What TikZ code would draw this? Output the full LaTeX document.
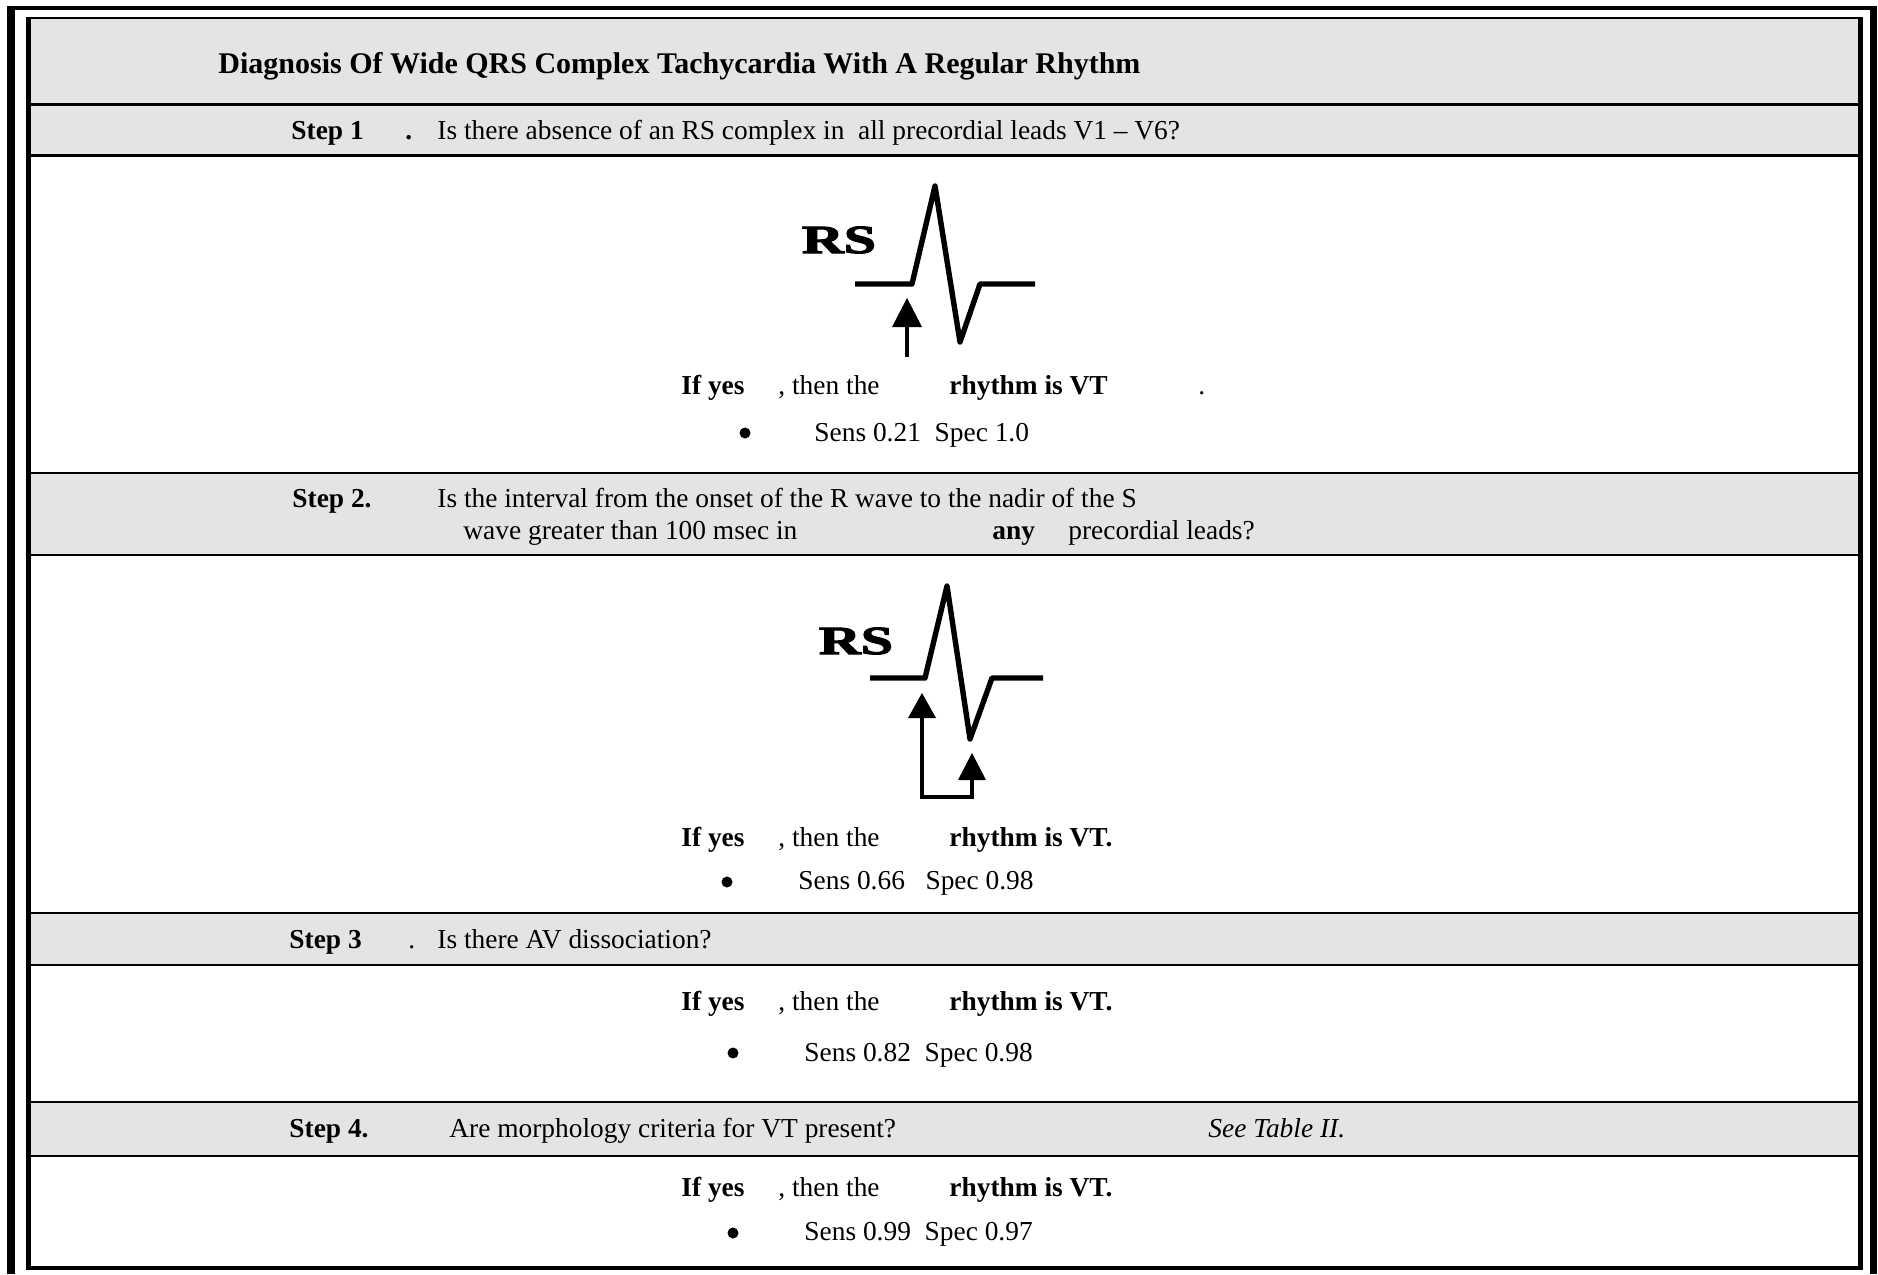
\documentclass[tikz,border=0pt]{standalone}
\usepackage{fontspec}
\usepackage{graphicx}
\setmainfont{Liberation Serif}
\newfontfamily\rsfam{Liberation Serif}[BoldFeatures={FakeBold=2.5}]
\definecolor{rowgray}{HTML}{E4E4E4}
\begin{document}
\begin{tikzpicture}[x=0.5pt,y=-0.5pt,
  body/.style={anchor=base west,inner sep=0pt,font=\fontsize{13.7}{16}\selectfont},
  bodyb/.style={anchor=base west,inner sep=0pt,font=\fontsize{13.7}{16}\selectfont\bfseries},
  bodyi/.style={anchor=base west,inner sep=0pt,font=\fontsize{13.7}{16}\selectfont\itshape},
  titlefont/.style={anchor=base west,inner sep=0pt,font=\fontsize{15}{18}\selectfont\bfseries},
  rsfont/.style={inner sep=0pt,font=\rsfam\fontsize{20}{22}\selectfont\bfseries},
  bulletdot/.style={circle,fill=black,inner sep=0pt,minimum size=5.5pt},
  sepline/.style={line width=1.25pt,black},
  wave/.style={line width=2.7pt,line join=round},
  shaft/.style={line width=2pt},
]
\useasboundingbox (0,0) rectangle (1878,1274);
% gray rows
\fill[rowgray] (28,18) rectangle (1860,104.5);
\fill[rowgray] (28,104.5) rectangle (1860,155.5);
\fill[rowgray] (28,473) rectangle (1860,555);
\fill[rowgray] (28,913) rectangle (1860,965);
\fill[rowgray] (28,1102) rectangle (1860,1156);
% separators
\foreach \yy in {104.5,155.5,473,555,913,965,1102,1156}
  \draw[sepline] (28,\yy) -- (1860,\yy);
% inner frame
\draw[line width=1pt] (26,18) -- (1863,18);
\draw[line width=2.25pt] (28.5,17) -- (28.5,1270);
\draw[line width=2.25pt] (1860.5,17) -- (1860.5,1270);
\draw[line width=2pt] (26,1268) -- (1863,1268);
% outer frame
\draw[line width=2pt] (7,8) -- (1877,8);
\draw[line width=4pt] (11,6) -- (11,1274);
\draw[line width=3.5pt] (1873.5,6) -- (1873.5,1274);

% title
\node[titlefont] (title) at (218,73) {Diagnosis Of Wide QRS Complex Tachycardia With A Regular Rhythm};

% step 1
\node[bodyb] (s1) at (291,139) {Step 1};
\node[bodyb] (s1dot) at (405,139) {.};
\node[body] (s1q) at (437,139) {Is there absence of an RS complex in\ \ all precordial leads V1 – V6?};

% ECG 1
\node[rsfont] (rs1) at (839,240) {\scalebox{1.45}[1]{RS}};
\draw[wave] (855,284) -- (912,284) -- (935,186) -- (960,342) -- (980,284) -- (1035,284);
\fill (907,298) -- (922,327) -- (892,327) -- cycle;
\draw[shaft] (907,320) -- (907,357);

\node[bodyb] (y1) at (681,394) {If yes};
\node[body] (t1) at (778,394) {, then the};
\node[bodyb] (r1) at (949,394) {rhythm is VT};
\node[body] (d1) at (1198,394) {.};
\node[bulletdot] (b1) at (745,433) {};
\node[body] (v1) at (814,441) {Sens 0.21\ \ Spec 1.0};

% step 2
\node[bodyb] (s2) at (292,507) {Step 2.};
\node[body] (s2a) at (437,507) {Is the interval from the onset of the R wave to the nadir of the S};
\node[body] (s2b) at (463,539) {wave greater than 100 msec in};
\node[bodyb] (s2c) at (992,539) {any};
\node[body] (s2d) at (1068,539) {precordial leads?};

% ECG 2
\node[rsfont] (rs2) at (856,641) {\scalebox{1.45}[1]{RS}};
\draw[wave] (870,678) -- (925,678) -- (947,586) -- (970,739) -- (992,678) -- (1043,678);
\fill (922,693) -- (936,718) -- (908,718) -- cycle;
\draw[shaft] (922,712) -- (922,797) -- (972,797) -- (972,775);
\fill (972,753) -- (986,780) -- (958,780) -- cycle;

\node[bodyb] (y2) at (681,846) {If yes};
\node[body] (t2) at (778,846) {, then the};
\node[bodyb] (r2) at (949,846) {rhythm is VT.};
\node[bulletdot] (b2) at (727,882) {};
\node[body] (v2) at (798,889) {Sens 0.66\ \ \ Spec 0.98};

% step 3
\node[bodyb] (s3) at (289,948) {Step 3};
\node[body] (s3dot) at (408,948) {.};
\node[body] (s3q) at (437,948) {Is there AV dissociation?};

\node[bodyb] (y3) at (681,1010) {If yes};
\node[body] (t3) at (778,1010) {, then the};
\node[bodyb] (r3) at (949,1010) {rhythm is VT.};
\node[bulletdot] (b3) at (733,1053) {};
\node[body] (v3) at (804,1061) {Sens 0.82\ \ Spec 0.98};

% step 4
\node[bodyb] (s4) at (289,1137) {Step 4.};
\node[body] (s4q) at (449,1137) {Are morphology criteria for VT present?};
\node[bodyi] (s4t) at (1208,1137) {See Table II.};

\node[bodyb] (y4) at (681,1196) {If yes};
\node[body] (t4) at (778,1196) {, then the};
\node[bodyb] (r4) at (949,1196) {rhythm is VT.};
\node[bulletdot] (b4) at (733,1233) {};
\node[body] (v4) at (804,1240) {Sens 0.99\ \ Spec 0.97};
\end{tikzpicture}
\end{document}
